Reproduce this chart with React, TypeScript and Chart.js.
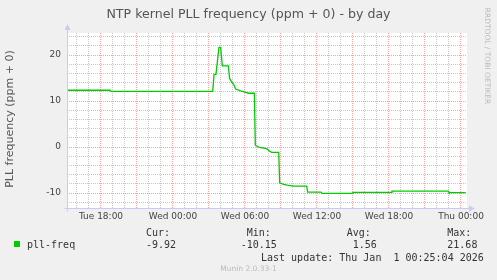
import React, { useEffect, useRef } from "react";
import { Chart, registerables } from "chart.js";

Chart.register(...registerables);

// time in hours relative to Wed 00:00
const hours = [
  -8.83, -5.25, -5.17, 3.31, 3.42, 3.58, 3.83, 3.97, 4.11, 4.61, 4.72, 4.94, 5.06,
  5.22, 5.64, 6.0, 6.28, 6.78, 6.86, 7.19, 7.81, 8.0, 8.22, 8.81, 8.89, 9.22, 9.53,
  10.03, 11.14, 11.22, 12.33, 12.42, 14.94, 15.0, 18.17, 18.25, 22.94, 23.0, 24.39,
];
const pllFreq = [
  12.35, 12.35, 12.1, 12.1, 15.8, 15.8, 21.68, 21.68, 17.67, 17.67, 14.9, 13.98, 13.6,
  12.6, 12.2, 11.96, 11.7, 11.7, 0.4, -0.1, -0.37, -0.8, -1.15, -1.15, -7.8, -8.1, -8.3,
  -8.5, -8.5, -9.8, -9.8, -10.07, -10.07, -9.85, -9.85, -9.6, -9.6, -9.92, -9.92,
];

const xMin = -8.833;
const xMax = 24.5;
const yMin = -13.26;
const yMax = 24.8;
const xGridHours = [-8, -7, -6, -5, -4, -3, -2, -1, 0, 1, 2, 3, 4, 5, 6, 7, 8, 9, 10, 11, 12, 13, 14, 15, 16, 17, 18, 19, 20, 21, 22, 23, 24];
const xLabelHours = [-6, 0, 6, 12, 18, 24];
const xLabelTexts = ["Tue 18:00", "Wed 00:00", "Wed 06:00", "Wed 12:00", "Wed 18:00", "Thu 00:00"];
const yGridValues = [-12, -10, -8, -6, -4, -2, 0, 2, 4, 6, 8, 10, 12, 14, 16, 18, 20, 22, 24];
const yLabelValues = [-10, 0, 10, 20];

const title = "NTP kernel PLL frequency (ppm + 0) - by day";
const yTitle = "PLL frequency (ppm + 0)";
const seriesName = "pll-freq";
const statHeaders = ["Cur:", "Min:", "Avg:", "Max:"];
const statValues = ["-9.92", "-10.15", "1.56", "21.68"];
const lastUpdate = "Last update: Thu Jan  1 00:25:04 2026";
const footer = "Munin 2.0.33-1";
const sideText = "RRDTOOL / TOBI OETIKER";

const GREEN = "#00CC00";
const MAJOR = "rgba(255,0,0,0.38)";
const MINOR = "rgba(120,120,120,0.42)";
const AXIS = "#C8CCF5";

const plotBg = {
  id: "plotBg",
  beforeDraw(chart: any) {
    const { ctx, chartArea } = chart;
    ctx.save();
    ctx.fillStyle = "#ffffff";
    ctx.fillRect(chartArea.left, chartArea.top, chartArea.right - chartArea.left, chartArea.bottom - chartArea.top);
    ctx.restore();
  },
  afterDraw(chart: any) {
    const { ctx, chartArea } = chart;
    const l = Math.round(chartArea.left) + 0.5;
    const b = Math.round(chartArea.bottom) + 0.5;
    ctx.save();
    ctx.strokeStyle = AXIS;
    ctx.fillStyle = AXIS;
    ctx.lineWidth = 1;
    ctx.beginPath();
    ctx.moveTo(l, b + 3);
    ctx.lineTo(l, chartArea.top - 4);
    ctx.moveTo(l - 3, b);
    ctx.lineTo(chartArea.right + 4, b);
    ctx.stroke();
    ctx.beginPath();
    ctx.moveTo(l, chartArea.top - 9);
    ctx.lineTo(l - 3, chartArea.top - 3);
    ctx.lineTo(l + 3, chartArea.top - 3);
    ctx.closePath();
    ctx.fill();
    ctx.beginPath();
    ctx.moveTo(chartArea.right + 8, b);
    ctx.lineTo(chartArea.right + 2, b - 3);
    ctx.lineTo(chartArea.right + 2, b + 3);
    ctx.closePath();
    ctx.fill();
    ctx.restore();
  },
};

export default function App() {
  const ref = useRef<HTMLCanvasElement | null>(null);

  useEffect(() => {
    if (!ref.current) return;
    const chart = new Chart(ref.current, {
      type: "line",
      data: {
        datasets: [
          {
            data: hours.map((h, i) => ({ x: h, y: pllFreq[i] })),
            borderColor: GREEN,
            borderWidth: 1.3,
            pointRadius: 0,
            tension: 0,
            fill: false,
          },
        ],
      },
      options: {
        animation: false,
        responsive: false,
        maintainAspectRatio: false,
        events: [],
        layout: { padding: { top: 33, right: 30, left: 0, bottom: 0 } },
        plugins: { legend: { display: false }, tooltip: { enabled: false }, title: { display: false } },
        scales: {
          x: {
            type: "linear",
            min: xMin,
            max: xMax,
            afterBuildTicks: (s: any) => {
              s.ticks = xGridHours.map((v) => ({ value: v }));
            },
            afterFit: (s: any) => {
              s.height = 72;
            },
            ticks: {
              autoSkip: false,
              maxRotation: 0,
              minRotation: 0,
              padding: 3,
              color: "#444",
              font: { family: "DejaVu Sans", size: 9 },
              callback: (v: any) => {
                const i = xLabelHours.indexOf(Number(v));
                return i >= 0 ? xLabelTexts[i] : "";
              },
            },
            grid: {
              drawTicks: false,
              lineWidth: 1,
              color: (c: any) => (c.tick && c.tick.value % 3 === 0 ? MAJOR : MINOR),
            },
            border: { display: false, dash: [1, 1] },
          },
          y: {
            type: "linear",
            min: yMin,
            max: yMax,
            afterBuildTicks: (s: any) => {
              s.ticks = yGridValues.map((v) => ({ value: v }));
            },
            afterFit: (s: any) => {
              s.width = 67;
            },
            ticks: {
              autoSkip: false,
              padding: 6,
              color: "#444",
              font: { family: "DejaVu Sans", size: 9 },
              callback: (v: any) => (yLabelValues.indexOf(Number(v)) >= 0 ? String(v) : ""),
            },
            grid: {
              drawTicks: false,
              lineWidth: 1,
              color: (c: any) => (c.tick && c.tick.value % 10 === 0 ? MAJOR : MINOR),
            },
            border: { display: false, dash: [1, 1] },
          },
        },
      },
      plugins: [plotBg],
    } as any);
    return () => chart.destroy();
  }, []);

  const mono: React.CSSProperties = {
    position: "absolute",
    fontFamily: "'DejaVu Sans Mono', monospace",
    fontSize: 10,
    lineHeight: "12px",
    color: "#333",
    whiteSpace: "pre",
  };
  const statX = [146, 240.7, 352.7, 447.3];
  const headX = [146, 246.7, 346.7, 447.3];

  return (
    <div style={{ position: "fixed", left: 0, top: 0, width: 497, height: 280, background: "#F0F0F0", overflow: "hidden" }}>
      <canvas ref={ref} width={497} height={280} style={{ position: "absolute", left: 0, top: 0, width: 497, height: 280 }} />
      <div style={{ position: "absolute", left: 0, top: 6, width: 497, textAlign: "center", fontFamily: "'DejaVu Sans'", fontSize: 12.6, lineHeight: "16px", color: "#555" }}>
        {title}
      </div>
      <div
        style={{
          position: "absolute",
          left: 10 - 100,
          top: 119 - 8,
          width: 200,
          height: 16,
          lineHeight: "16px",
          textAlign: "center",
          fontFamily: "'DejaVu Sans'",
          fontSize: 11,
          color: "#555",
          transform: "rotate(-90deg)",
          transformOrigin: "50% 50%",
          whiteSpace: "nowrap",
        }}
      >
        {yTitle}
      </div>
      <div
        style={{
          position: "absolute",
          left: 487 - 60,
          top: 56 - 5,
          width: 120,
          height: 10,
          lineHeight: "10px",
          textAlign: "center",
          fontFamily: "'DejaVu Sans'",
          fontSize: 7.5,
          color: "#BBBBBB",
          transform: "rotate(90deg)",
          transformOrigin: "50% 50%",
          whiteSpace: "nowrap",
        }}
      >
        {sideText}
      </div>
      <div style={{ position: "absolute", left: 14, top: 241, width: 6, height: 6, background: GREEN }} />
      <div style={{ ...mono, left: 27, top: 239 }}>{seriesName}</div>
      {statHeaders.map((h, i) => (
        <div key={"h" + i} style={{ ...mono, left: headX[i], top: 227 }}>{h}</div>
      ))}
      {statValues.map((v, i) => (
        <div key={"v" + i} style={{ ...mono, left: statX[i], top: 239 }}>{v}</div>
      ))}
      <div style={{ ...mono, left: 261, top: 252 }}>{lastUpdate}</div>
      <div style={{ position: "absolute", left: 0, top: 264, width: 497, textAlign: "center", fontFamily: "'DejaVu Sans'", fontSize: 7.5, lineHeight: "10px", color: "#BBBBBB" }}>
        {footer}
      </div>
    </div>
  );
}
